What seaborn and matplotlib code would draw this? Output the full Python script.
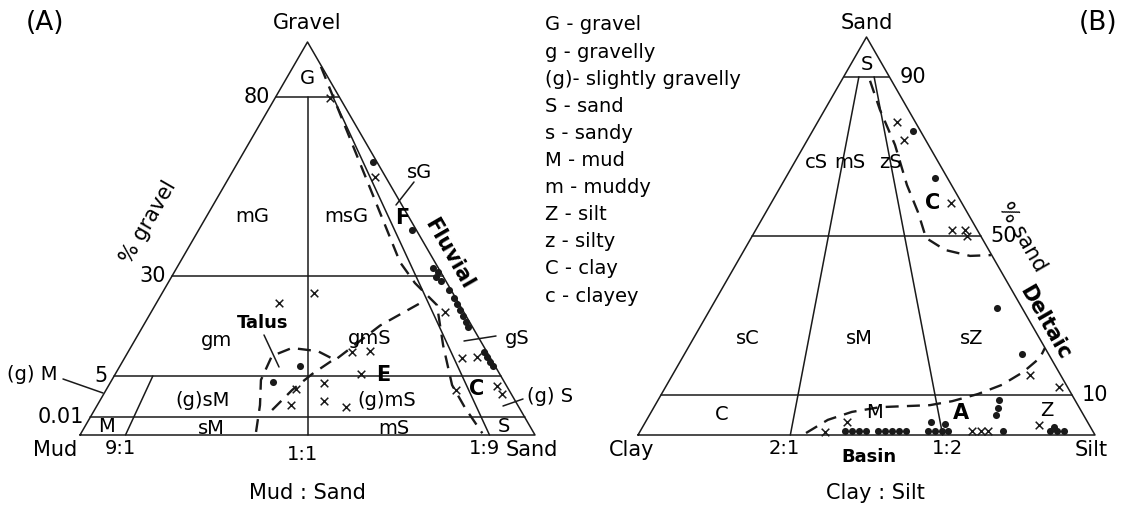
import numpy as np
import pandas as pd
import matplotlib
matplotlib.use("Agg")
import matplotlib.pyplot as plt
import seaborn as sns

sns.set_theme(style="white")
plt.rcParams['font.family'] = ['DejaVu Sans']
plt.rcParams['text.color'] = 'black'

# ---------------- data ----------------
# panel A: gravel % and sand / (sand + mud)
a_dot_gravel = [61.9, 42.8, 32.2, 31.1, 29.7, 28.7, 26.5, 24.5, 22.9, 21.5, 20.0,
                18.5, 17.2, 11.0, 9.7, 8.5, 7.5, 7.5, 4.28]
a_dot_sand = [0.972, 0.980, 0.980, 0.990, 0.972, 0.983, 0.993, 0.995, 0.993, 0.991,
              0.990, 0.989, 0.987, 0.992, 0.992, 0.993, 0.995, 0.480, 0.412]
a_x_gravel = [79.7, 57.6, 25.7, 23.2, 3.42, 1.46, 4.15, 1.95, 1.21, 11.0, 11.3,
              5.5, 21.0, 9.4, 9.7, 3.30, 3.79, 2.81]
a_x_sand = [0.847, 0.931, 0.522, 0.406, 0.471, 0.461, 0.542, 0.540, 0.591, 0.624,
            0.675, 0.639, 0.940, 0.922, 0.965, 0.869, 0.976, 0.977]

# facies boundaries, panel A
fluvial_gravel = [91, 33.8, 28.2, 22.7, 12.6, 3.9, 1.1, 0.001]
fluvial_sand = [0.97, 0.863, 0.885, 0.925, 0.886, 0.864, 0.872, 0.886]
talus_gravel = [0.0017, 1.46, 4.52, 10.0, 12.0, 11.2, 9.0, 17.6, 23.9]
talus_sand = [0.386, 0.387, 0.381, 0.402, 0.456, 0.529, 0.575, 0.721, 0.894]
talus_in_gravel = [0.85, 3.30, 5.5, 9.0]
talus_in_sand = [0.417, 0.462, 0.512, 0.569]

# panel B: sand % and silt / (silt + clay)
b_dot_sand = [76.4, 64.6, 31.9, 20.4, 8.8, 6.8, 5.0, 1.0,
              1.0, 1.0, 1.0, 1.0, 1.0, 1.0, 1.0, 1.0, 1.0, 1.0, 1.0, 1.0, 1.0,
              3.3, 2.8, 1.0, 1.0, 1.0, 2.0]
b_dot_silt = [0.93, 0.923, 0.919, 0.927, 0.818, 0.809, 0.798, 0.802,
              0.452, 0.468, 0.483, 0.499, 0.525, 0.541, 0.556, 0.572, 0.587,
              0.636, 0.652, 0.667, 0.680,
              0.646, 0.677, 0.906, 0.921, 0.937, 0.918]
b_x_sand = [78.6, 74.1, 58.3, 51.5, 51.5, 50.0, 15.1, 12.1, 1.0, 1.0, 1.0, 2.5, 0.75, 3.3]
b_x_silt = [0.81, 0.817, 0.943, 0.886, 0.944, 0.94, 0.921, 0.98, 0.734, 0.752, 0.769,
            0.887, 0.409, 0.456]

# facies boundaries, panel B
coastal_sand = [89, 81.7, 72.9, 62.8, 56.0, 49.5, 46.5, 45.0, 45.2]
coastal_silt = [0.57, 0.661, 0.730, 0.738, 0.756, 0.758, 0.821, 0.912, 0.997]
basin_sand = [0.5, 3.8, 5.8, 7.0, 7.5, 8.5, 10.3, 12.6, 15.8, 19.4, 21.9]
basin_silt = [0.367, 0.412, 0.466, 0.532, 0.650, 0.705, 0.772, 0.839, 0.907, 0.971, 1.0]

# classification limits
gravel_limits = [80, 30, 5, 0.01]
gravel_limit_labels = ["80", "30", "5", "0.01"]
sand_ratio_lines = [(0.1, 5), (0.5, 80), (0.9, 80)]
sand_ratio_labels = ["9:1", "1:1", "1:9"]
sand_limits = [90, 50, 10]
silt_ratio_lines = [(1 / 3, 90), (2 / 3, 90)]
silt_ratio_labels = ["2:1", "1:2"]

legend_codes = ["G", "g", "(g)", "S", "s", "M", "m", "Z", "z", "C", "c"]
legend_names = ["gravel", "gravelly", "slightly gravelly", "sand", "sandy", "mud",
                "muddy", "silt", "silty", "clay", "clayey"]

# ---------------- geometry (pixels) ----------------
# schematic gravel axis of the Folk triangle
GRAVEL_TICKS = [0, 0.01, 5, 30, 80, 100]
GRAVEL_HEIGHTS = [0, 0.046, 0.15, 0.405, 0.86, 1.0]
A_CORNERS = ((80, 435), (535, 435), (307.5, 42))
B_CORNERS = ((638, 435), (1095, 435), (866.5, 37))


def to_panel(h, r, corners):
    (lx, by), (rx, _), (tx, ty) = corners
    h = np.asarray(h, float)
    r = np.asarray(r, float)
    xl = lx + h * (tx - lx)
    xr = rx + h * (tx - rx)
    return xl + r * (xr - xl), by + h * (ty - by)


def panel_a(gravel, sand):
    return to_panel(np.interp(gravel, GRAVEL_TICKS, GRAVEL_HEIGHTS), sand, A_CORNERS)


def panel_b(sand, silt):
    return to_panel(np.asarray(sand, float) / 100, silt, B_CORNERS)


fig = plt.figure(figsize=(11.24, 5.07), dpi=100)
ax = fig.add_axes([0, 0, 1, 1])
ax.set_xlim(0, 1124)
ax.set_ylim(507, 0)
ax.axis("off")

LW = 1.1
DASH = (0, (5.5, 3.5))
FS = 15

# ---- panel A frame ----
x, y = panel_a([0, 0, 100, 0], [0, 1, 0.5, 0])
ax.plot(x, y, color="k", lw=LW)
for g, lab in zip(gravel_limits, gravel_limit_labels):
    x, y = panel_a([g, g], [0, 1])
    ax.plot(x, y, color="k", lw=LW)
    ax.text(x[0] - 6, y[0], lab, ha="right", va="center", fontsize=FS)
for (r, top), lab in zip(sand_ratio_lines, sand_ratio_labels):
    x, y = panel_a([0, top], [r, r])
    ax.plot(x, y, color="k", lw=LW)
    ax.text(x[0] - 5, y[0] + (19 if lab == "1:1" else 14), lab, ha="center", va="center",
            fontsize=FS - 1)

# ---- panel B frame ----
x, y = panel_b([0, 0, 100, 0], [0, 1, 0.5, 0])
ax.plot(x, y, color="k", lw=LW)
for s in sand_limits:
    x, y = panel_b([s, s], [0, 1])
    ax.plot(x, y, color="k", lw=LW)
    ax.text(x[1] + 10, y[1], str(s), ha="left", va="center", fontsize=FS)
for (r, top), lab in zip(silt_ratio_lines, silt_ratio_labels):
    x, y = panel_b([0, top], [r, r])
    ax.plot(x, y, color="k", lw=LW)
    ax.text(x[0] - 6 if lab == "2:1" else x[0] + 5, y[0] + 14, lab, ha="center",
            va="center", fontsize=FS - 1)

# ---- boundaries ----
for gx, sx in [(fluvial_gravel, fluvial_sand), (talus_gravel, talus_sand),
               (talus_in_gravel, talus_in_sand)]:
    x, y = panel_a(gx, sx)
    ax.plot(x, y, color="k", lw=1.7, ls=DASH)
for sx, zx in [(coastal_sand, coastal_silt), (basin_sand, basin_silt)]:
    x, y = panel_b(sx, zx)
    ax.plot(x, y, color="k", lw=1.7, ls=DASH)

# ---- samples ----
frames = []
for kind, (xx, yy) in [("dot", panel_a(a_dot_gravel, a_dot_sand)),
                       ("cross", panel_a(a_x_gravel, a_x_sand)),
                       ("dot", panel_b(b_dot_sand, b_dot_silt)),
                       ("cross", panel_b(b_x_sand, b_x_silt))]:
    frames.append(pd.DataFrame({"x": xx, "y": yy, "kind": kind}))
df = pd.concat(frames, ignore_index=True)
sns.scatterplot(data=df[df.kind == "dot"], x="x", y="y", color="k", s=26,
                marker="o", edgecolor="k", linewidth=0, ax=ax, legend=False, zorder=3)
sns.scatterplot(data=df[df.kind == "cross"], x="x", y="y", color="k", s=30,
                marker="x", linewidth=1.1, ax=ax, legend=False, zorder=3)

# ---- text, panel A ----
ax.text(45, 23, "(A)", ha="center", va="center", fontsize=19)
ax.text(307, 23, "Gravel", ha="center", va="center", fontsize=FS)
ax.text(307, 493, "Mud : Sand", ha="center", va="center", fontsize=FS)
ax.text(55, 450, "Mud", ha="center", va="center", fontsize=FS)
ax.text(532, 450, "Sand", ha="center", va="center", fontsize=FS)
ax.text(148, 222, "% gravel", ha="center", va="center", fontsize=FS, rotation=60,
        rotation_mode="anchor")
ax.text(449, 254, "Fluvial", ha="center", va="center", fontsize=15, rotation=-60,
        rotation_mode="anchor", fontweight="bold")
for tx, ty, t in [(307, 78, "G"), (252, 217, "mG"), (346, 217, "msG"), (420, 172, "sG"),
                  (216, 340, "gm"), (370, 338, "gmS"), (517, 338, "gS"),
                  (203, 400, "(g)sM"), (387, 400, "(g)mS"), (550, 397, "(g) S"),
                  (32, 375, "(g) M"), (107, 427, "M"), (211, 428, "sM"), (394, 428, "mS"),
                  (504, 427, "S")]:
    ax.text(tx, ty, t, ha="center", va="center", fontsize=FS - 1)
for tx, ty, t, fs in [(402, 218, "F", 15), (383, 375, "E", 15), (477, 389, "C", 15),
                      (263, 323, "Talus", 13)]:
    ax.text(tx, ty, t, ha="center", va="center", fontsize=fs, fontweight="bold")
for (x0, y0), (x1, y1) in [((63, 379), (103, 393)), ((396, 205), (414, 182)),
                           ((464, 341), (496, 336)), ((503, 406), (523, 399)),
                           ((264, 335), (279, 367))]:
    ax.plot([x0, x1], [y0, y1], color="k", lw=LW)

# ---- text, panel B ----
ax.text(1098, 23, "(B)", ha="center", va="center", fontsize=19)
ax.text(867, 23, "Sand", ha="center", va="center", fontsize=FS)
ax.text(875, 493, "Clay : Silt", ha="center", va="center", fontsize=FS)
ax.text(632, 450, "Clay", ha="center", va="center", fontsize=FS)
ax.text(1091, 450, "Silt", ha="center", va="center", fontsize=FS)
ax.text(1022, 237, "% sand", ha="center", va="center", fontsize=FS, rotation=-60,
        rotation_mode="anchor")
ax.text(1045, 323, "Deltaic", ha="center", va="center", fontsize=15, rotation=-60,
        rotation_mode="anchor", fontweight="bold")
for tx, ty, t in [(867, 65, "S"), (816, 162, "cS"), (850, 162, "mS"), (890, 162, "zS"),
                  (748, 338, "sC"), (859, 338, "sM"), (972, 338, "sZ"),
                  (722, 415, "C"), (874, 413, "M"), (1047, 410, "Z")]:
    ax.text(tx, ty, t, ha="center", va="center", fontsize=FS - 1)
for tx, ty, t, fs in [(933, 203, "C", 15), (961, 413, "A", 15), (869, 457, "Basin", 13)]:
    ax.text(tx, ty, t, ha="center", va="center", fontsize=fs, fontweight="bold")

# ---- key ----
for i, (c, n) in enumerate(zip(legend_codes, legend_names)):
    sep = "- " if c == "(g)" else " - "
    ax.text(545, 25 + 27.1 * i, c + sep + n, ha="left", va="center", fontsize=FS - 1)

fig.savefig("out.png", dpi=100, facecolor="white")
